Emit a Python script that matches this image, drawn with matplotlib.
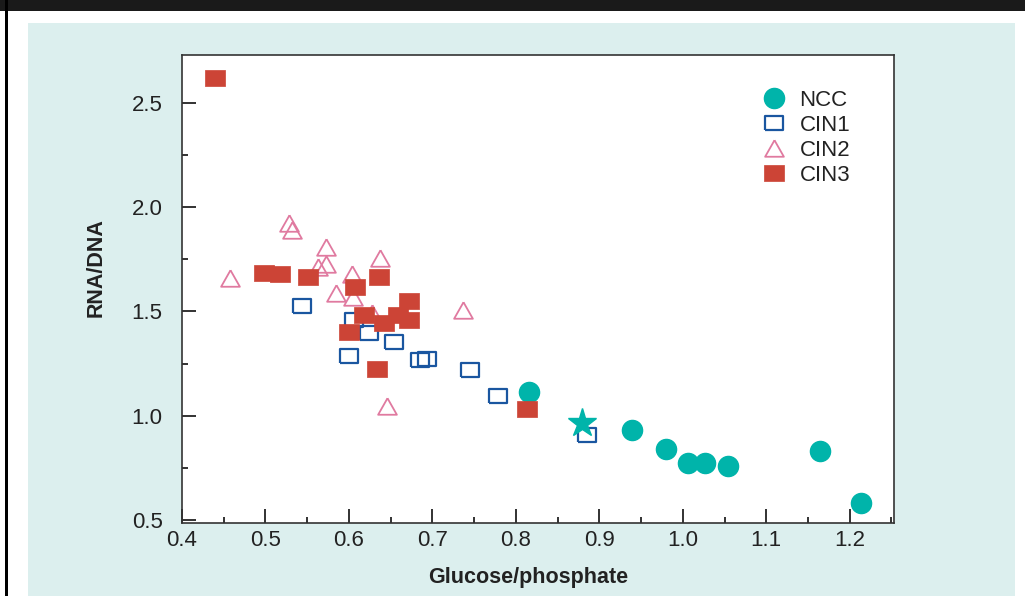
import numpy as np
import matplotlib.pyplot as plt
from matplotlib.patches import Rectangle
from matplotlib.ticker import MultipleLocator

plt.rcParams['font.family'] = ['Liberation Sans', 'DejaVu Sans']

# ---- data ----
ncc_x = [0.816, 0.939, 0.980, 1.006, 1.027, 1.054, 1.164, 1.213]
ncc_y = [1.112, 0.931, 0.838, 0.774, 0.771, 0.758, 0.832, 0.579]

cin1_x = [0.544, 0.606, 0.624, 0.654, 0.600, 0.685, 0.694, 0.745, 0.779, 0.885]
cin1_y = [1.526, 1.459, 1.398, 1.355, 1.287, 1.265, 1.270, 1.219, 1.095, 0.907]

cin2_x = [0.528, 0.532, 0.572, 0.457, 0.563, 0.572, 0.637, 0.604, 0.585, 0.605, 0.737, 0.645, 0.628]
cin2_y = [1.926, 1.891, 1.810, 1.662, 1.714, 1.726, 1.755, 1.679, 1.587, 1.568, 1.507, 1.046, 1.492]

cin3_x = [0.4395, 0.498, 0.517, 0.551, 0.607, 0.636, 0.672, 0.618, 0.642, 0.659, 0.672, 0.600, 0.634, 0.813]
cin3_y = [2.620, 1.684, 1.681, 1.664, 1.617, 1.664, 1.548, 1.484, 1.446, 1.483, 1.460, 1.403, 1.225, 1.030]

star_x = [0.879]
star_y = [0.963]

# colours
teal = "#00b4aa"
blue = "#1a56a0"
pink = "#e07aa0"
red = "#cc4436"
panel = "#dcefee"

# wide-ish rectangle and flattened triangle markers
rect = [(-1, -0.8), (1, -0.8), (1, 0.8), (-1, 0.8), (-1, -0.8)]
tri = [(0, 0.88), (-1, -0.88), (1, -0.88), (0, 0.88)]

W, H = 1025, 596
fig = plt.figure(figsize=(W / 100, H / 100), dpi=100)
fig.patch.set_facecolor("white")

# page decorations: black band, left rule, teal panel
fig.add_artist(Rectangle((0, 1 - 11 / H), 1, 11 / H, transform=fig.transFigure,
                         facecolor="#1a1a1a", edgecolor="none", zorder=0))
fig.add_artist(Rectangle((5 / W, 0), 2.5 / W, 1, transform=fig.transFigure,
                         facecolor="black", edgecolor="none", zorder=0))
fig.add_artist(Rectangle((28 / W, 0), (1015 - 28) / W, (H - 23) / H, transform=fig.transFigure,
                         facecolor=panel, edgecolor="none", zorder=0))

ax = fig.add_axes([182 / W, 1 - 523 / H, 712 / W, 468 / H])
ax.set_facecolor("white")

ax.plot(ncc_x, ncc_y, linestyle="none", marker="o", markersize=14.5,
        markerfacecolor=teal, markeredgecolor=teal, label="NCC", zorder=3)
ax.plot(cin1_x, cin1_y, linestyle="none", marker=rect, markersize=12.5,
        markerfacecolor="none", markeredgecolor=blue, markeredgewidth=1.6,
        label="CIN1", zorder=3)
ax.plot(cin2_x, cin2_y, linestyle="none", marker=tri, markersize=13.5,
        markerfacecolor="none", markeredgecolor=pink, markeredgewidth=1.3,
        label="CIN2", zorder=3)
ax.plot(cin3_x, cin3_y, linestyle="none", marker=rect, markersize=14,
        markerfacecolor=red, markeredgecolor=red, markeredgewidth=0.5,
        label="CIN3", zorder=4)
ax.plot(star_x, star_y, linestyle="none", marker="*", markersize=21,
        markerfacecolor=teal, markeredgecolor=teal, zorder=3)

ax.set_xlim(0.4, 1.253)
ax.set_ylim(0.485, 2.73)

ax.xaxis.set_major_locator(MultipleLocator(0.1))
ax.xaxis.set_minor_locator(MultipleLocator(0.05))
ax.yaxis.set_major_locator(MultipleLocator(0.5))
ax.yaxis.set_minor_locator(MultipleLocator(0.25))
ax.xaxis.set_major_formatter(plt.FuncFormatter(lambda v, p: f"{v:.1f}"))
ax.yaxis.set_major_formatter(plt.FuncFormatter(lambda v, p: f"{v:.1f}"))

ax.tick_params(which="both", direction="in", top=False, right=False,
               labelsize=16, colors="#222222", width=1.3)
ax.tick_params(which="major", length=10)
ax.tick_params(which="minor", length=4)
ax.tick_params(axis="x", pad=5)
ax.tick_params(axis="y", pad=14)
for s in ax.spines.values():
    s.set_color("#333333")
    s.set_linewidth(1.2)

leg = ax.legend(loc="upper left", bbox_to_anchor=(0.80, 0.945), frameon=False,
                fontsize=16, handletextpad=0.55, labelspacing=0.18,
                borderaxespad=0, handlelength=1.2)
for t in leg.get_texts():
    t.set_color("#222222")

fig.text(96 / W, 1 - 268 / H, "RNA/DNA", rotation=90, ha="center", va="center",
         fontsize=15.5, fontweight="bold", color="#222222")
fig.text(528 / W, 1 - 577 / H, "Glucose/phosphate", ha="center", va="center",
         fontsize=15.5, fontweight="bold", color="#222222")

fig.savefig("out.png", dpi=100, facecolor=fig.get_facecolor())
